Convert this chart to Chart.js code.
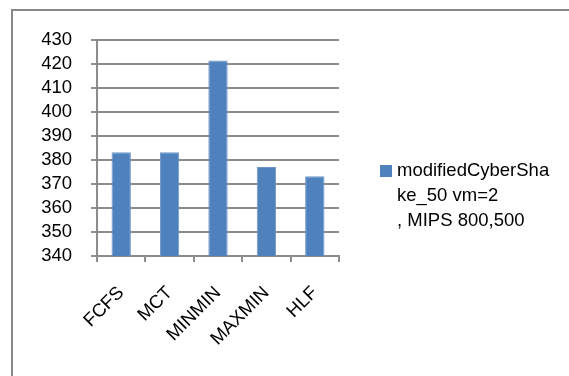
<!DOCTYPE html>
<html>
<head>
<meta charset="utf-8">
<script src="https://cdn.jsdelivr.net/npm/chart.js@4/dist/chart.umd.min.js"></script>
<style>
  html, body { margin: 0; padding: 0; background: #fff; }
  #wrap { width: 569px; height: 376px; position: relative; }
</style>
</head>
<body>
<div id="wrap"><canvas id="c" width="569" height="376"></canvas></div>
<script>
// Scheduling algorithms compared
const categories = ["FCFS", "MCT", "MINMIN", "MAXMIN", "HLF"];
// Makespan per algorithm
const makespan = [383.2, 383.2, 421.5, 377.1, 373.2];
// Value axis ticks
const yTicks = [340, 350, 360, 370, 380, 390, 400, 410, 420, 430];
// Series name, wrapped as shown in the legend
const legendLines = ["modifiedCyberSha", "ke_50 vm=2", ", MIPS 800,500"];
const seriesName = legendLines.join("");

const FONT = "'Liberation Sans', Arial, sans-serif";
const FONT_SIZE = 18.5;
const GRID = "#8c8c8c";
const BAR = "#4f81bd";

// Outer frame of the chart object
const framePlugin = {
  id: "frame",
  beforeDraw(chart) {
    const ctx = chart.ctx;
    ctx.save();
    ctx.fillStyle = "#fff";
    ctx.fillRect(0, 0, chart.width, chart.height);
    ctx.strokeStyle = "#878787";
    ctx.lineWidth = 2;
    ctx.strokeRect(12, 10, chart.width + 20, chart.height + 20);
    ctx.restore();
  }
};

// Legend with wrapped series name to the right of the plot
const wrappedLegend = {
  id: "wrappedLegend",
  afterDraw(chart) {
    const ctx = chart.ctx;
    const ds = chart.data.datasets[0];
    const x = chart.chartArea.right + 41;
    const y0 = 171;
    const lh = 25;
    ctx.save();
    ctx.fillStyle = ds.backgroundColor;
    ctx.fillRect(x, y0 - 6, 12, 12);
    ctx.fillStyle = "#000";
    ctx.font = FONT_SIZE + "px " + FONT;
    ctx.textBaseline = "middle";
    ctx.textAlign = "left";
    legendLines.forEach((t, i) => ctx.fillText(t, x + 17, y0 + i * lh));
    ctx.restore();
  }
};

new Chart(document.getElementById("c"), {
  type: "bar",
  data: {
    labels: categories,
    datasets: [{
      label: seriesName,
      data: makespan,
      backgroundColor: BAR,
      borderColor: "#6f97c9",
      borderWidth: 1,
      categoryPercentage: 1.0,
      barPercentage: 0.4
    }]
  },
  options: {
    responsive: false,
    animation: false,
    devicePixelRatio: 1,
    layout: { padding: { top: 40, right: 230, bottom: 0, left: 0 } },
    plugins: {
      legend: { display: false },
      tooltip: { enabled: false }
    },
    scales: {
      y: {
        min: yTicks[0],
        max: yTicks[yTicks.length - 1],
        afterBuildTicks(scale) { scale.ticks = yTicks.map(v => ({ value: v })); },
        afterFit(scale) { scale.width = 97; },
        border: { display: true, color: GRID, width: 2 },
        grid: { color: GRID, lineWidth: 2, tickLength: 6 },
        ticks: {
          color: "#000",
          font: { family: FONT, size: FONT_SIZE },
          autoSkip: false,
          stepSize: 10,
          padding: 19
        }
      },
      x: {
        afterFit(scale) { scale.height = 120; },
        border: { display: true, color: GRID, width: 2 },
        grid: { drawOnChartArea: false, color: GRID, lineWidth: 2, tickLength: 6 },
        ticks: {
          color: "#000",
          font: { family: FONT, size: FONT_SIZE },
          autoSkip: false,
          minRotation: 45,
          maxRotation: 45,
          padding: 20
        }
      }
    }
  },
  plugins: [framePlugin, wrappedLegend]
});
</script>
</body>
</html>
